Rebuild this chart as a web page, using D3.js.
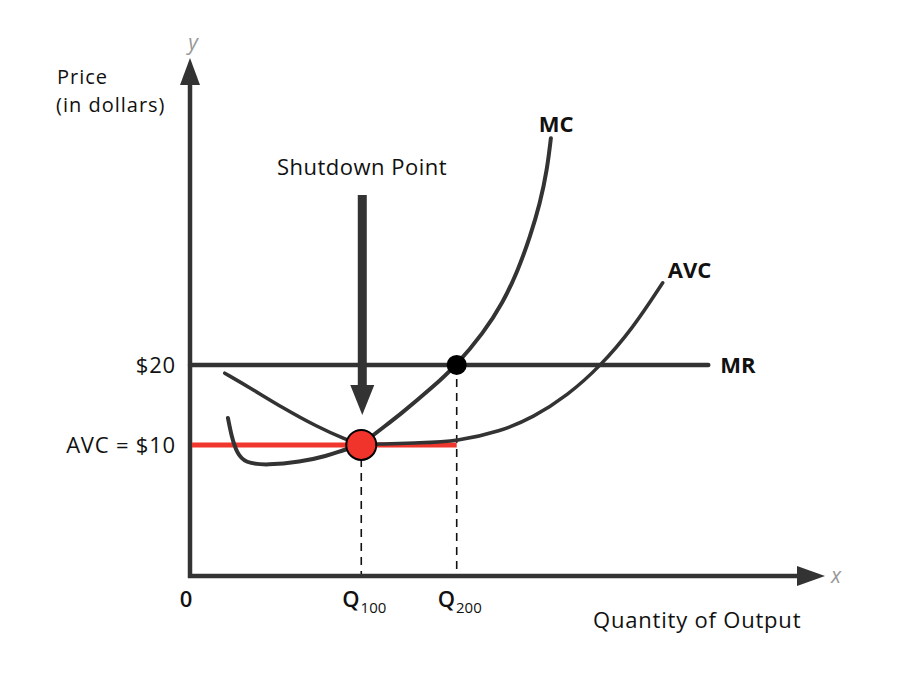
<!DOCTYPE html>
<html>
<head>
<meta charset="utf-8">
<script src="https://cdn.jsdelivr.net/npm/d3@7"></script>
<style>
  html, body { margin: 0; padding: 0; background: #fff; }
  svg text { font-family: "Open Sans", "Lato", sans-serif; fill: #111; }
</style>
</head>
<body>
<div id="chart"></div>
<script>
// values (abstract chart units, 0-100 on both axes)
var mcX  = [6.0, 6.6, 7.4, 8.7, 12.2, 17.4, 21.7, 24.2, 27.1, 29.6, 33.2, 38.4, 42.2, 46.4, 49.5, 51.9, 53.8, 55.4, 56.5, 57.1];
var mcY  = [30.4, 26.7, 23.7, 21.7, 21.3, 21.9, 23.1, 24.2, 25.2, 27.7, 31.0, 36.3, 40.6, 46.7, 52.5, 58.8, 65.2, 71.7, 78.1, 84.2];
var avcX = [5.5, 9.5, 14.7, 20.1, 24.7, 27.1, 30.1, 36.4, 42.2, 49.1, 54.3, 59.7, 64.9, 70.1, 74.8];
var avcY = [39.0, 36.2, 32.3, 28.7, 26.2, 25.2, 25.4, 25.6, 25.9, 27.8, 30.5, 34.7, 40.3, 47.7, 56.4];
var mrPrice = 40.6;      // $20
var avcMinPrice = 25.2;  // $10
var mrEnd = 82.0;
var qLevels = [27.1, 42.2];
var qSubs = ["100", "200"];
var priceLabels = ["$20", "AVC = $10"];

var width = 900, height = 675;
var svg = d3.select("#chart").append("svg")
    .attr("width", width)
    .attr("height", height);

var x = d3.scaleLinear().domain([0, 100]).range([190, 822]);
var y = d3.scaleLinear().domain([0, 100]).range([576, 56]);

var dark = "#333";
var line = d3.line()
    .x(function(d) { return x(d[0]); })
    .y(function(d) { return y(d[1]); })
    .curve(d3.curveBasis);

// dashed guides
svg.append("g").selectAll("line")
    .data(qLevels)
    .enter().append("line")
    .attr("x1", function(d) { return x(d); })
    .attr("x2", function(d) { return x(d); })
    .attr("y1", function(d, i) { return i == 0 ? y(avcMinPrice) : y(mrPrice); })
    .attr("y2", y(0))
    .attr("stroke", "#111")
    .attr("stroke-width", 1.6)
    .attr("stroke-dasharray", "8,6");

// axes
svg.append("line")
    .attr("x1", x(0)).attr("y1", y(0) + 2)
    .attr("x2", x(0)).attr("y2", y(100) + 20)
    .attr("stroke", dark).attr("stroke-width", 4.5);
svg.append("line")
    .attr("x1", x(0) - 2).attr("y1", y(0))
    .attr("x2", x(100) - 20).attr("y2", y(0))
    .attr("stroke", dark).attr("stroke-width", 4.5);
svg.append("path")
    .attr("d", "M" + x(0) + "," + (y(100) + 2) + "l-10,27h20z")
    .attr("fill", dark);
svg.append("path")
    .attr("d", "M" + (x(100) + 3) + "," + y(0) + "l-28,-10v20z")
    .attr("fill", dark);

// MR line
svg.append("line")
    .attr("x1", x(0)).attr("x2", x(mrEnd))
    .attr("y1", y(mrPrice)).attr("y2", y(mrPrice))
    .attr("stroke", dark).attr("stroke-width", 4.5)
    .attr("stroke-linecap", "round");

// red AVC level
svg.append("line")
    .attr("x1", x(0) + 2).attr("x2", x(qLevels[1]))
    .attr("y1", y(avcMinPrice)).attr("y2", y(avcMinPrice))
    .attr("stroke", "#f0372d").attr("stroke-width", 5);

// curves
svg.append("path")
    .datum(d3.zip(avcX, avcY))
    .attr("d", line)
    .attr("fill", "none")
    .attr("stroke", dark).attr("stroke-width", 3.5)
    .attr("stroke-linecap", "round");
svg.append("path")
    .datum(d3.zip(mcX, mcY))
    .attr("d", line)
    .attr("fill", "none")
    .attr("stroke", dark).attr("stroke-width", 4)
    .attr("stroke-linecap", "round");

// shutdown arrow
var ax = x(qLevels[0]) + 1;
svg.append("rect")
    .attr("x", ax - 4.5).attr("y", 195)
    .attr("width", 9).attr("height", 195)
    .attr("fill", dark);
svg.append("path")
    .attr("d", "M" + ax + ",415l-12,-30h24z")
    .attr("fill", dark);

// points
svg.append("circle")
    .attr("cx", x(qLevels[1])).attr("cy", y(mrPrice))
    .attr("r", 10).attr("fill", "#000");
svg.append("circle")
    .attr("cx", x(qLevels[0])).attr("cy", y(avcMinPrice))
    .attr("r", 15).attr("fill", "#f0332b")
    .attr("stroke", "#000").attr("stroke-width", 2);

// texts
var fs = "22px";
svg.append("text").attr("x", x(0) + 3).attr("y", 50)
    .attr("text-anchor", "middle").style("font-style", "italic")
    .style("fill", "#999").style("font-size", "21px").text("y");
svg.append("text").attr("x", x(100) + 14).attr("y", 583)
    .attr("text-anchor", "middle").style("font-style", "italic")
    .style("fill", "#999").style("font-size", "21px").text("x");

svg.append("text").attr("x", 57).attr("y", 84)
    .style("font-size", "20px").style("letter-spacing", "1px").text("Price");
svg.append("text").attr("x", 56).attr("y", 112)
    .style("font-size", "20px").style("letter-spacing", "1px").text("(in dollars)");

svg.selectAll(".plabel")
    .data(priceLabels)
    .enter().append("text")
    .attr("class", "plabel")
    .attr("x", 176)
    .attr("y", function(d, i) { return y(i == 0 ? mrPrice : avcMinPrice) + 8; })
    .attr("text-anchor", "end")
    .style("font-size", fs).style("font-weight", 500).style("letter-spacing", "0.8px")
    .text(function(d) { return d; });

svg.append("text").attr("x", 186).attr("y", 607)
    .attr("text-anchor", "middle").style("font-size", fs).style("font-weight", 600)
    .text("0");

var ql = svg.selectAll(".qlabel")
    .data(qLevels)
    .enter().append("text")
    .attr("class", "qlabel")
    .attr("x", function(d) { return x(d) - 19; })
    .attr("y", 607)
    .style("font-size", fs).style("font-weight", 600);
ql.append("tspan").text("Q");
ql.append("tspan").attr("dx", 1).attr("dy", 6).style("font-size", "15px").style("font-weight", 400)
    .text(function(d, i) { return qSubs[i]; });

svg.append("text").attr("x", 593).attr("y", 628)
    .style("font-size", fs).style("font-weight", 500).style("letter-spacing", "0.8px")
    .text("Quantity of Output");

svg.append("text").attr("x", 362).attr("y", 175)
    .attr("text-anchor", "middle").style("font-size", fs).style("font-weight", 500)
    .style("letter-spacing", "0.5px")
    .text("Shutdown Point");

svg.append("text").attr("x", x(mcX[mcX.length - 1]) - 12).attr("y", 132)
    .style("font-size", fs).style("font-weight", 700).text("MC");
svg.append("text").attr("x", x(avcX[avcX.length - 1]) + 5).attr("y", 278)
    .style("font-size", fs).style("font-weight", 700).text("AVC");
svg.append("text").attr("x", x(mrEnd) + 12).attr("y", 373)
    .style("font-size", fs).style("font-weight", 700).text("MR");
</script>
</body>
</html>
